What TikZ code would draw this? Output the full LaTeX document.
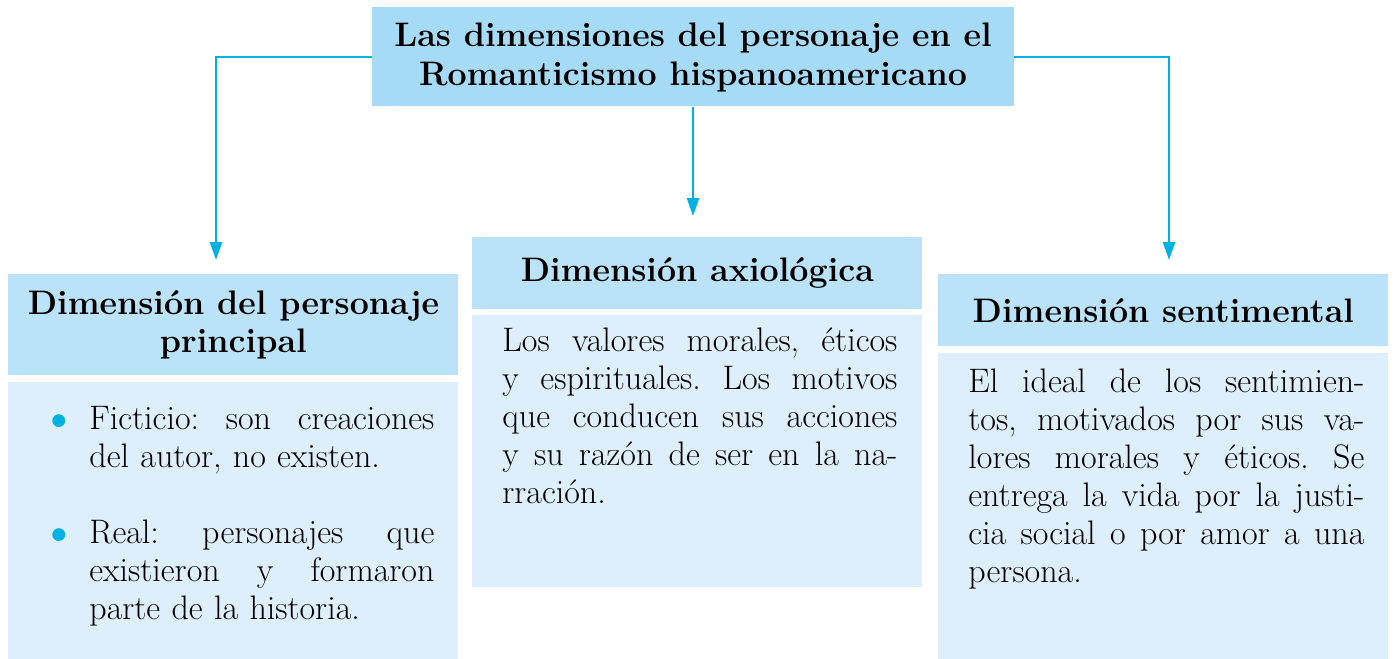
\documentclass[tikz,border=0pt]{standalone}
\usepackage{tikz}
\usepackage{graphicx}
\usetikzlibrary{arrows.meta,positioning,calc}

\definecolor{titlefill}{RGB}{166,219,247}
\definecolor{headfill}{RGB}{186,226,248}
\definecolor{bodyfill}{RGB}{221,239,252}
\definecolor{linkblue}{RGB}{0,178,228}

\frenchspacing
\newcommand{\jl}[1]{\makebox[\hsize][s]{\spaceskip=0pt\xspaceskip=0pt #1}}
\newcommand{\bul}{\leavevmode\llap{\textcolor{linkblue}{\raisebox{-3.6pt}{\scalebox{1.7}{\textbullet}}}\hspace{4.5pt}}}

\begin{document}
\begin{tikzpicture}[x=0.5pt, y=-0.5pt,
  title/.style={fill=titlefill, inner sep=0pt, align=center, minimum width=321pt, minimum height=49.5pt, font=\fontsize{17}{19.5}\selectfont\bfseries},
  head/.style={fill=headfill, inner sep=0pt, align=center, minimum width=225pt, anchor=north west, font=\fontsize{17}{19}\selectfont\bfseries},
  body/.style={fill=bodyfill, inner sep=0pt, minimum width=225pt},
  txt/.style={inner sep=0pt, align=left, anchor=base west, font=\fontsize{17}{19}\selectfont},
  arr/.style={-{Triangle[length=9pt,width=6pt]}, line width=1.25pt, draw=linkblue}
]
\useasboundingbox (0,0) rectangle (1395,658);

\node[title] (top) at (693,57) {Las dimensiones del personaje en el\\Romanticismo hispanoamericano};

% three columns
\node[head, minimum height=50.5pt] (lhead) at (8,274) {Dimensión del personaje\\principal};
\node[body, minimum height=138.5pt, below=3pt of lhead] (lbody) {};
\node[head, minimum height=36pt] (mhead) at (472,237) {Dimensión axiológica};
\node[body, minimum height=136pt, below=2.5pt of mhead] (mbody) {};
\node[head, minimum height=36pt] (rhead) at (938,274) {Dimensión sentimental};
\node[body, minimum height=153pt, below=3pt of rhead] (rbody) {};

\node[txt, text width=172.5pt] (ltext) at (89,429) {\bul\jl{Ficticio: son creaciones}\\del autor, no existen.\\[19pt]\bul\jl{Real: personajes que}\\\jl{existieron y formaron}\\parte de la historia.};
\node[txt, text width=197.5pt] (mtext) at (502,351) {\jl{Los valores morales, éticos}\\\jl{y espirituales. Los motivos}\\\jl{que conducen sus acciones}\\\jl{y su razón de ser en la na-}\\rración.};
\node[txt, text width=198pt] (rtext) at (968,392) {\jl{El ideal de los sentimien-}\\\jl{tos, motivados por sus va-}\\\jl{lores morales y éticos. Se}\\\jl{entrega la vida por la justi-}\\\jl{cia social o por amor a una}\\persona.};

% connectors
\coordinate (lend) at (216,260);
\coordinate (mend) at (693,216);
\coordinate (rend) at (1169,260);
\draw[arr] (top.west) -| (lend);
\draw[arr] (top.south) -- (mend);
\draw[arr] (top.east) -| (rend);

\end{tikzpicture}
\end{document}
